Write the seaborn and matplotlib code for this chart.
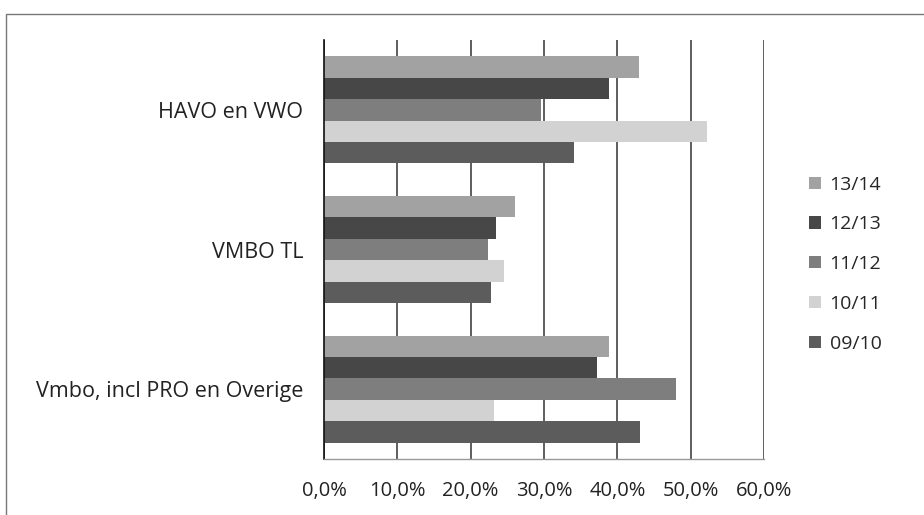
import pandas as pd
import seaborn as sns
import matplotlib.pyplot as plt
from matplotlib.patches import Rectangle

# categories top to bottom, series in legend order (top to bottom)
categories = ['HAVO en VWO', 'VMBO TL', 'Vmbo, incl PRO en Overige']
seasons = ['13/14', '12/13', '11/12', '10/11', '09/10']

# share per category, one list per school year
v_1314 = [0.429, 0.261, 0.388]
v_1213 = [0.389, 0.235, 0.372]
v_1112 = [0.296, 0.224, 0.480]
v_1011 = [0.522, 0.245, 0.232]
v_0910 = [0.341, 0.228, 0.431]

xticks = [0.0, 0.1, 0.2, 0.3, 0.4, 0.5, 0.6]

colors = ['#a2a2a2', '#474747', '#7e7e7e', '#d2d2d2', '#5c5c5c']

rows = []
for season, vals in zip(seasons, [v_1314, v_1213, v_1112, v_1011, v_0910]):
    for cat, v in zip(categories, vals):
        rows.append({'cat': cat, 'season': season, 'value': v})
df = pd.DataFrame(rows)

sns.set_style('white')
plt.rcParams['font.family'] = ['Open Sans', 'DejaVu Sans']

fig = plt.figure(figsize=(9.24, 5.15), dpi=100)
ax = fig.add_axes([324 / 924, 1 - 459 / 515, 440 / 924, 419 / 515])

sns.barplot(data=df, y='cat', x='value', hue='season', order=categories,
            hue_order=seasons, palette=colors, saturation=1, width=0.765,
            orient='h', ax=ax, edgecolor='none', legend=True)

ax.set_xlim(0, 0.6)
ax.set_ylim(2.5, -0.5)
ax.set_xticks(xticks)
ax.set_xticklabels([f'{t * 100:.1f}%'.replace('.', ',') for t in xticks],
                   fontsize=14.5, color='#222222')
ax.set_yticks(range(len(categories)))
ax.set_yticklabels(categories, fontsize=15.5, color='#222222')
ax.set_yticks([-0.5, 0.5, 1.5, 2.5], minor=True)
ax.tick_params(axis='y', which='major', length=0, pad=15)
ax.tick_params(axis='y', which='minor', length=6, width=1, color='#333333')
ax.tick_params(axis='x', length=6, width=1, color='#444444', pad=10,
               direction='out')
ax.set_xlabel('')
ax.set_ylabel('')

ax.grid(axis='x', color='#333333', linewidth=1.1)
ax.set_axisbelow(True)
for s in ['top', 'right']:
    ax.spines[s].set_visible(False)
ax.spines['left'].set_color('#111111')
ax.spines['left'].set_linewidth(1.2)
ax.spines['bottom'].set_color('#999999')
ax.spines['bottom'].set_linestyle((0, (2, 1)))
ax.spines['bottom'].set_linewidth(1)

ax.legend(loc='center left', bbox_to_anchor=(1.085, 0.465), frameon=False,
          fontsize=14, handlelength=0.6, handleheight=0.6,
          handletextpad=0.45, labelspacing=1.12, borderaxespad=0)

# outer chart frame (cut off at right and bottom in the scan)
fig.patches.append(Rectangle((6 / 924, -0.05), 1.0, 1 - 14 / 515 + 0.05,
                             transform=fig.transFigure, fill=False,
                             edgecolor='#777777', linewidth=1.0))

fig.savefig('out.png', dpi=100)
